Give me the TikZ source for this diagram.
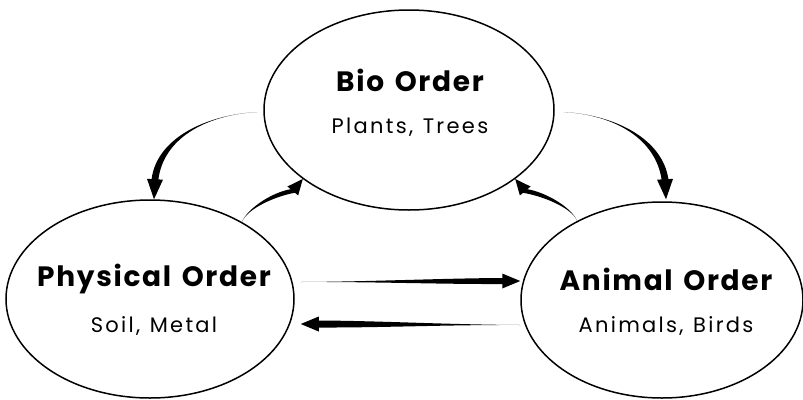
\documentclass[tikz,border=0pt]{standalone}
\usepackage{fontspec}
\setmainfont{Poppins}
\newfontfamily\titlefont{Poppins}[LetterSpace=6, WordSpace=1.4, UprightFont=*-Bold]
\newfontfamily\subfont{Poppins}[LetterSpace=11, WordSpace=1.2]
\usetikzlibrary{shapes.geometric,calc}

\tikzset{
  order/.style={ellipse, draw=black, line width=1.5pt, inner sep=0pt},
  title/.style={font=\titlefont\fontsize{28}{32}\selectfont, text=black, inner sep=0pt},
  sub/.style={font=\subfont\fontsize{21}{25}\selectfont, text=black, inner sep=0pt},
  arrowfill/.style={fill=black}
}

% Tapered arrow: #1 start, #2 first control, #3 second control,
% #4 base of the head, #5 tip, #6 shaft half width, #7 head half width
\newcommand{\taperarrow}[7]{%
  \coordinate (tpL) at ($(#4)!#6!90:(#5)$);
  \coordinate (tpR) at ($(#4)!#6!-90:(#5)$);
  \coordinate (tpHL) at ($(#4)!#7!90:(#5)$);
  \coordinate (tpHR) at ($(#4)!#7!-90:(#5)$);
  \coordinate (tpCL) at ($(#3)+(tpL)-(#4)$);
  \coordinate (tpCR) at ($(#3)+(tpR)-(#4)$);
  \fill[arrowfill] (#1) .. controls (#2) and (tpCL) .. (tpL) -- (tpHL) -- (#5)
    -- (tpHR) -- (tpR) .. controls (tpCR) and (#2) .. (#1) -- cycle;
}

\begin{document}
\begin{tikzpicture}[x=1pt,y=-1pt]
\useasboundingbox (0,0) rectangle (803,399);

% the three orders
\node[order, minimum width=290pt, minimum height=200pt] (bio)  at (409,110) {};
\node[order, minimum width=288pt, minimum height=198pt] (phys) at (150,299) {};
\node[order, minimum width=282pt, minimum height=196pt] (anim) at (662,300) {};

\node[title] (bioT)  at (410,80)  {Bio Order};
\node[sub]   (bioS)  at (410,127) {Plants, Trees};
\node[title] (physT) at (154,279) {Physical Order};
\node[sub]   (physS) at (154,326) {Soil, Metal};
\node[title] (animT) at (666,279) {Animal Order};
\node[sub]   (animS) at (666,326) {Animals, Birds};

% Bio -> Physical (upper left)
\coordinate (a1s) at ($(bio.west)+(-6,2)$);
\coordinate (a1c1) at ($(a1s)+(-53,3)$);
\coordinate (a1t) at ($(phys.north)+(4,0)$);
\coordinate (a1e) at ($(a1t)+(1,-20)$);
\coordinate (a1c2) at ($(a1e)+(5,-40)$);
\taperarrow{a1s}{a1c1}{a1c2}{a1e}{a1t}{3.4pt}{8pt}

% Bio -> Animal (upper right)
\coordinate (a2s) at ($(bio.east)+(9,2)$);
\coordinate (a2c1) at ($(a2s)+(52,3)$);
\coordinate (a2t) at ($(anim.north)+(4,-2)$);
\coordinate (a2e) at ($(a2t)+(-1,-20)$);
\coordinate (a2c2) at ($(a2e)+(-6,-40)$);
\taperarrow{a2s}{a2c1}{a2c2}{a2e}{a2t}{3.4pt}{8pt}

% Physical -> Bio (small)
\coordinate (a3s) at (phys.40);
\coordinate (a3t) at (bio.213);
\coordinate (a3c1) at ($(a3s)+(6,-14)$);
\coordinate (a3e) at ($(a3t)+(-10,12)$);
\coordinate (a3c2) at ($(a3e)+(-18,3)$);
\taperarrow{a3s}{a3c1}{a3c2}{a3e}{a3t}{2.8pt}{7pt}

% Animal -> Bio (small)
\coordinate (a4s) at (anim.137);
\coordinate (a4t) at (bio.327);
\coordinate (a4c1) at ($(a4s)+(-6,-14)$);
\coordinate (a4e) at ($(a4t)+(10,12)$);
\coordinate (a4c2) at ($(a4e)+(18,3)$);
\taperarrow{a4s}{a4c1}{a4c2}{a4e}{a4t}{2.8pt}{7pt}

% Physical -> Animal
\coordinate (a5s) at ($(phys.east)+(6,-17)$);
\coordinate (a5t) at ($(anim.west)+(0,-19)$);
\coordinate (a5e) at ($(a5t)+(-18,0)$);
\coordinate (a5c1) at ($(a5s)!0.35!(a5e)$);
\coordinate (a5c2) at ($(a5s)!0.7!(a5e)$);
\taperarrow{a5s}{a5c1}{a5c2}{a5e}{a5t}{3pt}{7.5pt}

% Animal -> Physical
\coordinate (a6s) at ($(anim.west)+(0,25)$);
\coordinate (a6t) at ($(phys.east)+(6,25)$);
\coordinate (a6e) at ($(a6t)+(18,0)$);
\coordinate (a6c1) at ($(a6s)!0.35!(a6e)$);
\coordinate (a6c2) at ($(a6s)!0.7!(a6e)$);
\taperarrow{a6s}{a6c1}{a6c2}{a6e}{a6t}{3.5pt}{7.5pt}
\end{tikzpicture}
\end{document}
